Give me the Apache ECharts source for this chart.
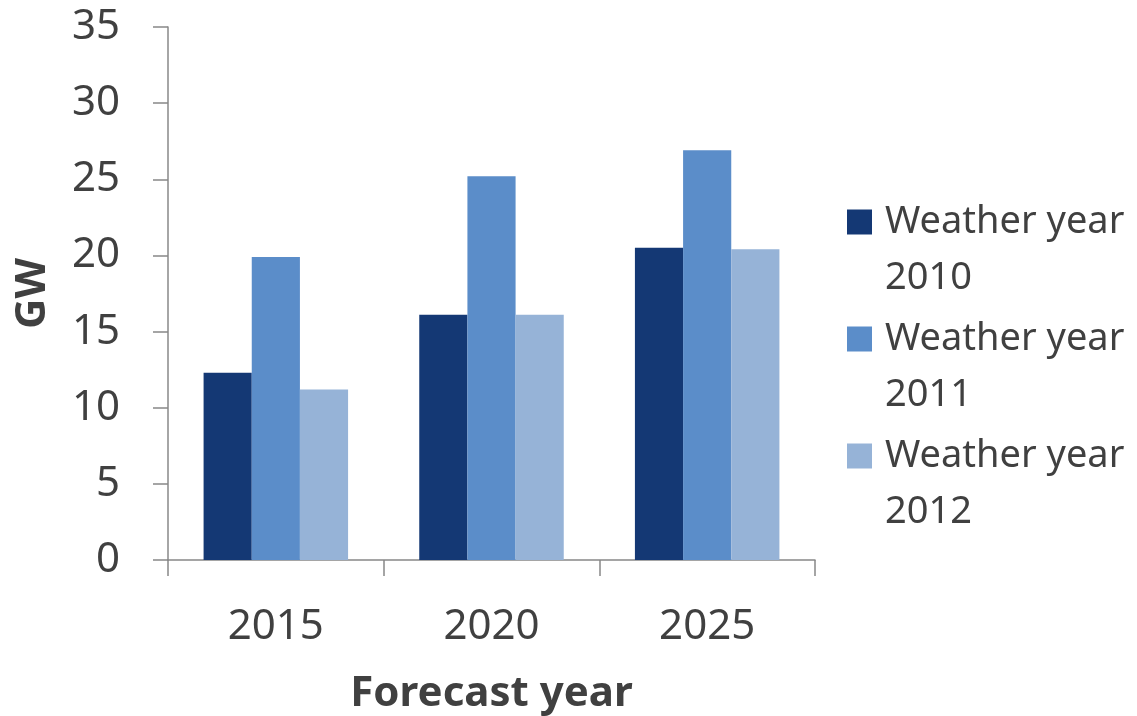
<!DOCTYPE html>
<html>
<head>
<meta charset="utf-8">
<script src="https://cdn.jsdelivr.net/npm/echarts@6/dist/echarts.min.js"></script>
<style>
  html, body { margin: 0; padding: 0; background: #fff; }
  #chart { width: 1137px; height: 716px; }
</style>
</head>
<body>
<div id="chart"></div>
<script>
// forecast years on the x axis
const categories = ['2015', '2020', '2025']
const seriesNames = ['Weather year 2010', 'Weather year 2011', 'Weather year 2012']
const wy2010 = [12.3, 16.1, 20.5]
const wy2011 = [19.9, 25.2, 26.9]
const wy2012 = [11.2, 16.1, 20.4]
const colors = ['#143874', '#5b8dc9', '#96b3d7']

const textColor = '#404040'
const fontFamily = '"Noto Sans", "Open Sans", sans-serif'

const chart = echarts.init(document.getElementById('chart'), null, { renderer: 'canvas' })

const option = {
  animation: false,
  color: colors,
  textStyle: { fontFamily: fontFamily, color: textColor },
  grid: {
    left: 168,
    right: 322,
    top: 27,
    bottom: 156,
    containLabel: false,
    outerBoundsMode: 'none'
  },
  legend: {
    orient: 'vertical',
    left: 847,
    top: 138,
    itemWidth: 25,
    itemHeight: 25,
    itemGap: -51,
    icon: 'rect',
    padding: 0,
    data: seriesNames,
    // leading blank line keeps the icon level with the first text line
    formatter: name => '\n' + name.replace('year ', 'year\n'),
    textStyle: {
      fontSize: 38,
      lineHeight: 56,
      color: textColor,
      fontFamily: fontFamily,
      padding: [0, 0, 0, 8]
    }
  },
  xAxis: {
    type: 'category',
    data: categories,
    name: 'Forecast year',
    nameLocation: 'middle',
    nameGap: 113,
    nameTextStyle: { fontSize: 42, fontWeight: 'bold', color: textColor },
    axisLine: { lineStyle: { color: '#888888', width: 1.5 } },
    axisTick: { show: true, length: 16, lineStyle: { color: '#888888', width: 1.5 } },
    axisLabel: { fontSize: 42, color: textColor, margin: 46 }
  },
  yAxis: {
    type: 'value',
    min: 0,
    max: 35,
    interval: 5,
    name: 'GW',
    nameLocation: 'middle',
    nameGap: 114,
    nameTextStyle: { fontSize: 42, fontWeight: 'bold', color: textColor },
    splitLine: { show: false },
    axisLine: { show: true, lineStyle: { color: '#888888', width: 1.5 } },
    axisTick: { show: true, length: 15, lineStyle: { color: '#888888', width: 1.5 } },
    axisLabel: { fontSize: 42, color: textColor, margin: 48 }
  },
  series: [
    { name: seriesNames[0], type: 'bar', data: wy2010, barGap: 0, barCategoryGap: '33%' },
    { name: seriesNames[1], type: 'bar', data: wy2011, barGap: 0, barCategoryGap: '33%' },
    { name: seriesNames[2], type: 'bar', data: wy2012, barGap: 0, barCategoryGap: '33%' }
  ]
}

chart.setOption(option)
</script>
</body>
</html>
